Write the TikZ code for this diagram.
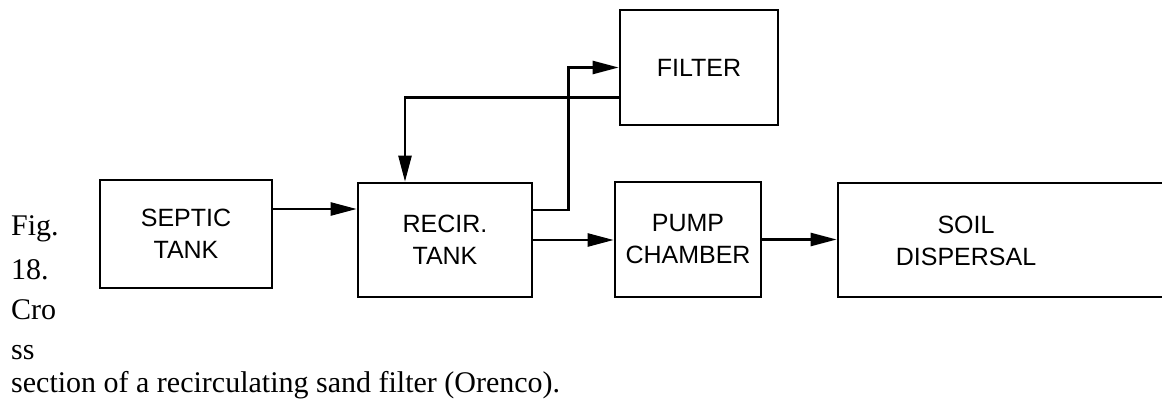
\documentclass[tikz,border=0pt]{standalone}
\usepackage{fontspec}
\setmainfont{Liberation Serif}
\newfontfamily\boxfont{Liberation Sans}
\usetikzlibrary{arrows.meta}

\begin{document}
\begin{tikzpicture}[x=1pt, y=-1pt,
    tank/.style={draw, line width=2.6pt, inner sep=0pt, align=center,
      font=\boxfont\fontsize{25}{32}\selectfont},
    flow/.style={line width=2.4pt, -{Triangle[length=26pt, width=13pt]}},
    caption/.style={anchor=base west, inner sep=0pt,
      font=\fontsize{30}{40}\selectfont}]
  \path[use as bounding box, clip] (0,0) rectangle (1162,406);
  % blocks
  \node[tank, minimum width=172pt, minimum height=108pt] (septic) at (186,234) {SEPTIC\\TANK};
  \node[tank, minimum width=174pt, minimum height=114pt] (recir) at (445,240) {RECIR.\\TANK};
  \node[tank, minimum width=158pt, minimum height=115pt] (filter) at (699,67.5) {FILTER};
  \node[tank, minimum width=146pt, minimum height=115pt] (pump) at (688,239.5) {PUMP\\CHAMBER};
  \node[tank, minimum width=342pt, minimum height=114pt] (soil) at (1009,240) {};
  \node[font=\boxfont\fontsize{25}{32}\selectfont, align=center] (soiltxt) at (966,241) {SOIL\\DISPERSAL};
  % connectors
  \coordinate (s1) at ([yshift=25pt]septic.east);
  \draw[flow] (s1) -- (s1 -| recir.west);
  \draw[flow] ([yshift=30pt]recir.east) -- ++(35,0) |- (filter.west);
  \draw[flow] ([yshift=-30pt]filter.west) -| ([xshift=-40pt]recir.north);
  \draw[flow] (recir.east) -- (recir.east -| pump.west);
  \draw[flow] (pump.east) -- (pump.east -| soil.west);
  % caption
  \node[caption] (fig) at (11,236) {Fig.};
  \node[caption] (num) at (11,279) {18.};
  \node[caption] (cro) at (11,319) {Cro};
  \node[caption] (ss) at (11,359) {ss};
  \node[caption] (sect) at (11,392) {section of a recirculating sand filter (Orenco).};
\end{tikzpicture}
\end{document}
